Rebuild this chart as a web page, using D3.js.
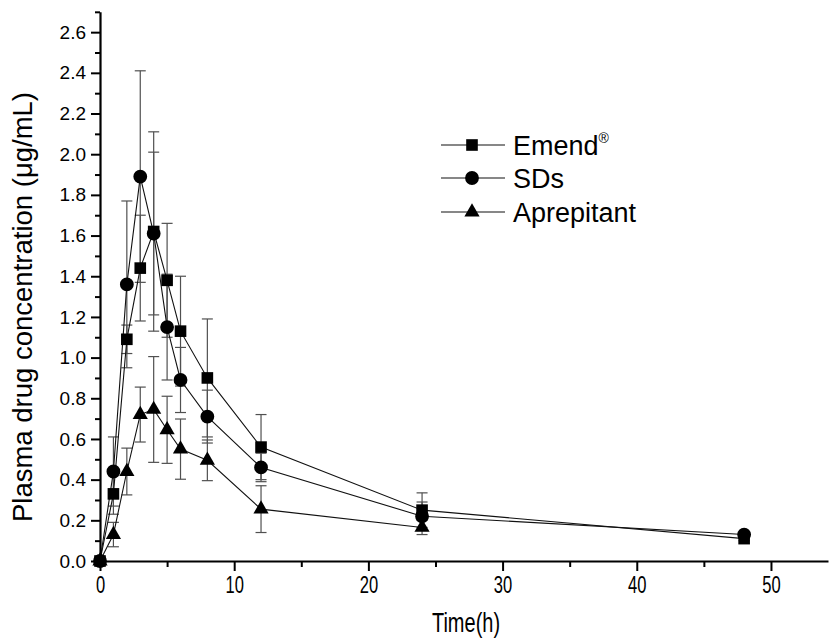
<!DOCTYPE html>
<html>
<head>
<meta charset="utf-8">
<script src="https://cdn.jsdelivr.net/npm/d3@7"></script>
<style>
  html, body { margin: 0; padding: 0; background: #fff; }
  svg { display: block; }
</style>
</head>
<body>
<svg id="chart" width="829" height="642"></svg>
<script>
// ---- data ----
const time = [0, 1, 2, 3, 4, 5, 6, 8, 12, 24, 48];
const emend      = [0, 0.33, 1.09, 1.44, 1.62, 1.38, 1.13, 0.90, 0.56, 0.25, 0.11];
const emendSD    = [0, 0.10, 0.07, 0.26, 0.49, 0.28, 0.27, 0.29, 0.16, 0.085, 0.01];
const sds        = [0, 0.44, 1.36, 1.89, 1.61, 1.15, 0.89, 0.71, 0.46, 0.22, 0.13];
const sdsSD      = [0, 0.17, 0.41, 0.52, 0.40, 0.26, 0.16, 0.13, 0.07, 0.07, 0.01];
const aprepTime  = [0, 1, 2, 3, 4, 5, 6, 8, 12, 24];
const aprep      = [0, 0.13, 0.44, 0.72, 0.745, 0.645, 0.55, 0.495, 0.255, 0.165];
const aprepSD    = [0, 0.06, 0.115, 0.135, 0.26, 0.165, 0.148, 0.10, 0.115, 0.035];
const xTicks = [0, 10, 20, 30, 40, 50];
const xMinor = [5, 15, 25, 35, 45];
const yTicks = [0, 0.2, 0.4, 0.6, 0.8, 1.0, 1.2, 1.4, 1.6, 1.8, 2.0, 2.2, 2.4, 2.6];
const yMinor = [0.1, 0.3, 0.5, 0.7, 0.9, 1.1, 1.3, 1.5, 1.7, 1.9, 2.1, 2.3, 2.5, 2.7];
const seriesNames = ["Emend", "SDs", "Aprepitant"];

const series = [
  { name: seriesNames[0], t: time, v: emend, sd: emendSD, shape: "square" },
  { name: seriesNames[1], t: time, v: sds, sd: sdsSD, shape: "circle" },
  { name: seriesNames[2], t: aprepTime, v: aprep, sd: aprepSD, shape: "triangle" }
];

const svg = d3.select("#chart");
const x = d3.scaleLinear().domain([0, 54.25]).range([100, 828]);
const y = d3.scaleLinear().domain([0, 2.7]).range([561, 561 - 2.7 * 203.4]);

const font = "Arial, 'Liberation Sans', sans-serif";

// error bars
const gErr = svg.append("g").attr("stroke", "#505050").attr("stroke-width", 1.2);
series.forEach(s => {
  s.t.forEach((t, i) => {
    if (s.sd[i] <= 0) return;
    const cx = x(t), y1 = y(s.v[i] + s.sd[i]), y2 = y(s.v[i] - s.sd[i]);
    gErr.append("line").attr("x1", cx).attr("x2", cx).attr("y1", y1).attr("y2", y2);
    gErr.append("line").attr("x1", cx - 5.5).attr("x2", cx + 5.5).attr("y1", y1).attr("y2", y1);
    gErr.append("line").attr("x1", cx - 5.5).attr("x2", cx + 5.5).attr("y1", y2).attr("y2", y2);
  });
});

// lines
const line = d3.line().x(d => x(d[0])).y(d => y(d[1]));
series.forEach(s => {
  svg.append("path")
    .attr("d", line(s.t.map((t, i) => [t, s.v[i]])))
    .attr("fill", "none").attr("stroke", "#111").attr("stroke-width", 1.1);
});

// markers
const sym = {
  square: d3.symbol().type(d3.symbolSquare).size(135),
  circle: d3.symbol().type(d3.symbolCircle).size(150),
  triangle: d3.symbol().type(d3.symbolTriangle).size(100)
};
series.forEach(s => {
  svg.append("g").selectAll("path").data(s.t.map((t, i) => [t, s.v[i]])).join("path")
    .attr("d", sym[s.shape]())
    .attr("transform", d => `translate(${x(d[0])},${y(d[1])})`)
    .attr("fill", "#000");
});

// axes
const xAxis = svg.append("g").attr("transform", "translate(0,561)")
  .call(d3.axisBottom(x).tickValues(xTicks).tickFormat(d3.format("d")).tickSize(10).tickSizeOuter(0).tickPadding(6));
svg.append("g").attr("transform", "translate(0,561)")
  .call(d3.axisBottom(x).tickValues(xMinor).tickFormat("").tickSize(6).tickSizeOuter(0))
  .call(g => g.select(".domain").remove());
const yAxis = svg.append("g").attr("transform", "translate(100,0)")
  .call(d3.axisLeft(y).tickValues(yTicks).tickFormat(d3.format(".1f")).tickSize(9).tickSizeOuter(0).tickPadding(5));
svg.append("g").attr("transform", "translate(100,0)")
  .call(d3.axisLeft(y).tickValues(yMinor).tickFormat("").tickSize(5).tickSizeOuter(0))
  .call(g => g.select(".domain").remove());

svg.selectAll(".domain").attr("stroke", "#000").attr("stroke-width", 2.2);
svg.selectAll(".tick line").attr("stroke", "#000").attr("stroke-width", 2);
xAxis.selectAll("text").attr("font-family", font).attr("font-size", 23).attr("fill", "#000")
  .attr("transform", "scale(0.72,1)");
yAxis.selectAll("text").attr("font-family", font).attr("font-size", 19).attr("fill", "#000");

// axis titles
svg.append("g").attr("transform", "translate(466,632)")
  .append("text").attr("transform", "scale(0.74,1)").attr("text-anchor", "middle")
  .attr("font-family", font).attr("font-size", 27).text("Time(h)");
svg.append("text").attr("transform", "translate(32,307) rotate(-90)").attr("text-anchor", "middle")
  .attr("font-family", font).attr("font-size", 27.5).text("Plasma drug concentration (μg/mL)");

// legend
const legY = [145, 178, 212];
series.forEach((s, i) => {
  const g = svg.append("g").attr("transform", `translate(0,${legY[i]})`);
  g.append("line").attr("x1", 441).attr("x2", 505).attr("y1", 0).attr("y2", 0)
    .attr("stroke", "#111").attr("stroke-width", 1.1);
  g.append("path").attr("d", sym[s.shape]()).attr("transform", "translate(472,0)").attr("fill", "#000");
  const t = g.append("text").attr("x", 513).attr("y", 9.5)
    .attr("font-family", font).attr("font-size", 27).attr("fill", "#000").text(s.name);
  if (i === 0) {
    t.append("tspan").attr("font-size", 14).attr("dy", -12).text("®");
  }
});
</script>
</body>
</html>
